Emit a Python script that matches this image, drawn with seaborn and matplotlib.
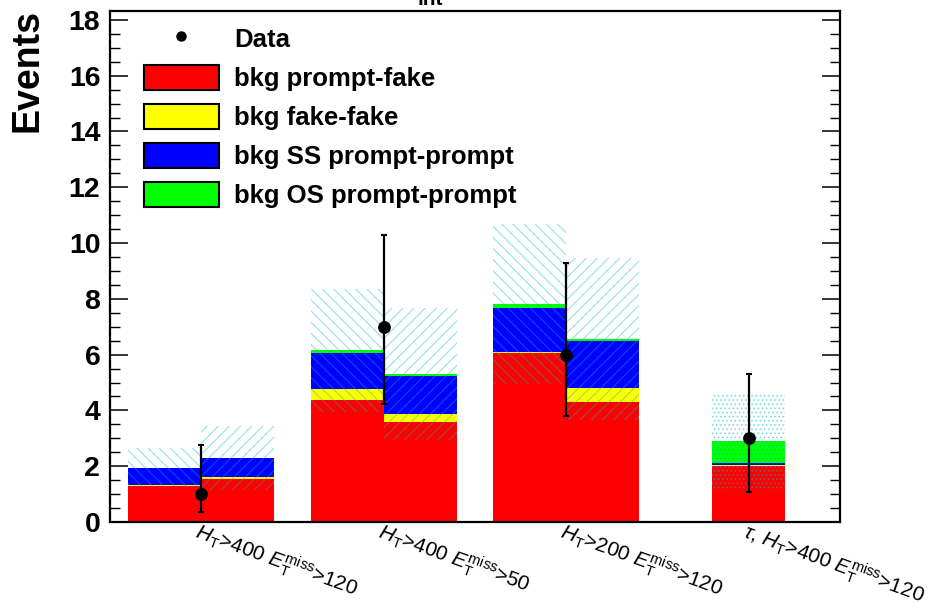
import numpy as np
import pandas as pd
import matplotlib
matplotlib.use("Agg")
import matplotlib.pyplot as plt
import seaborn as sns
from matplotlib.patches import Patch
from matplotlib.lines import Line2D
from matplotlib.ticker import MultipleLocator

# ---------------- data ----------------
regions = [r"$H_{\mathrm{T}}$>400 $E_{\mathrm{T}}^{\mathrm{miss}}$>120",
           r"$H_{\mathrm{T}}$>400 $E_{\mathrm{T}}^{\mathrm{miss}}$>50",
           r"$H_{\mathrm{T}}$>200 $E_{\mathrm{T}}^{\mathrm{miss}}$>120",
           r"$\tau$, $H_{\mathrm{T}}$>400 $E_{\mathrm{T}}^{\mathrm{miss}}$>120"]
# background bars: (region index, side) ; side -1 = left half, +1 = right half, 0 = centred
bar_region = [0, 0, 1, 1, 2, 2, 3]
bar_side = [-1, 1, -1, 1, -1, 1, 0]
bkg_prompt_fake = [1.30, 1.53, 4.37, 3.60, 6.07, 4.31, 2.01]
bkg_fake_fake = [0.02, 0.08, 0.41, 0.26, 0.03, 0.50, 0.02]
bkg_ss_pp = [0.63, 0.67, 1.29, 1.37, 1.58, 1.69, 0.07]
bkg_os_pp = [0.00, 0.02, 0.08, 0.07, 0.13, 0.06, 0.80]
bkg_err = [0.69, 1.14, 2.19, 2.36, 2.87, 2.89, 1.71]

data_obs = [1, 7, 6, 3]
data_lo = [0.35, 4.23, 3.80, 1.09]
data_hi = [2.76, 10.30, 9.27, 5.30]

layer_names = ["bkg prompt-fake", "bkg fake-fake", "bkg SS prompt-prompt", "bkg OS prompt-prompt"]
layer_vals = [bkg_prompt_fake, bkg_fake_fake, bkg_ss_pp, bkg_os_pp]
layer_cols = ["#ff0000", "#ffff00", "#0000ff", "#00ff00"]

# ---------------- style ----------------
sns.set_theme(style="white")
plt.rcParams["font.family"] = ["Liberation Sans", "DejaVu Sans"]
plt.rcParams["mathtext.fontset"] = "custom"
plt.rcParams["mathtext.rm"] = "Liberation Sans"
plt.rcParams["mathtext.it"] = "Liberation Sans:italic"
plt.rcParams["mathtext.bf"] = "Liberation Sans:bold"
plt.rcParams["hatch.linewidth"] = 0.8
for k in ["text.color", "axes.labelcolor", "xtick.color", "ytick.color", "axes.edgecolor"]:
    plt.rcParams[k] = "black"

fig = plt.figure(figsize=(9.34, 6.03), dpi=100)
ax = fig.add_axes([110/934, 81/603, 730/934, 511/603])

half = 0.4
xpos = []
for r, s in zip(bar_region, bar_side):
    if s < 0:
        xpos.append(r - half/2)
    elif s > 0:
        xpos.append(r + half/2)
    else:
        xpos.append(r)
xpos = np.array(xpos)

bottom = np.zeros(len(xpos))
for vals, col in zip(layer_vals, layer_cols):
    v = np.array(vals)
    ax.bar(xpos, v, width=half, bottom=bottom, color=col, linewidth=0, zorder=2)
    bottom += v
total = bottom
err = np.array(bkg_err)

hatches = ["\\\\\\" if s < 0 else ("///" if s > 0 else "....") for s in bar_side]
for x, t, e, h in zip(xpos, total, err, hatches):
    ax.bar([x], [2*e], width=half, bottom=[t - e], facecolor="none",
           edgecolor=(0.0, 0.72, 0.78, 0.42), linewidth=0, hatch=h, zorder=3)

# data points
dx = np.arange(len(data_obs))
dobs = np.array(data_obs, dtype=float)
yerr = [dobs - np.array(data_lo), np.array(data_hi) - dobs]
ax.errorbar(dx, dobs, yerr=yerr, fmt="none", ecolor="black", elinewidth=1.6,
            capsize=2, capthick=1.5, zorder=5)
df = pd.DataFrame({"x": dx, "y": dobs})
sns.scatterplot(data=df, x="x", y="y", ax=ax, color="black", s=85,
                edgecolor="black", linewidth=0, zorder=6, legend=False)

# axes
ax.set_xlim(-0.5, 3.5)
ax.set_ylim(0, 18.32)
ax.set_xlabel("")
ax.set_ylabel("")
ax.yaxis.set_major_locator(MultipleLocator(2))
ax.yaxis.set_minor_locator(MultipleLocator(0.5))
ax.tick_params(axis="y", which="major", direction="in", length=13, width=1.1,
               left=True, right=True, labelsize=20.5, pad=7, colors="black")
ax.tick_params(axis="y", which="minor", direction="in", length=7, width=1.0,
               left=True, right=True, colors="black")
for lab in ax.get_yticklabels():
    lab.set_fontweight("bold")
ax.set_xticks(dx)
ax.set_xticklabels(regions, fontsize=15)
ax.tick_params(axis="x", length=0, pad=-3, bottom=True, colors="black")
for lab in ax.get_xticklabels():
    lab.set_rotation(-20)
    lab.set_ha("left")
    lab.set_va("top")
    lab.set_rotation_mode("anchor")
for sp in ax.spines.values():
    sp.set_linewidth(1.6)
    sp.set_color("black")
    sp.set_visible(True)

# legend
handles = [Line2D([], [], marker="o", color="black", linestyle="none", markersize=6.5)]
for name, col in zip(layer_names, layer_cols):
    handles.append(Patch(facecolor=col, edgecolor="black", linewidth=1.5))
labels = ["Data"] + layer_names
leg = ax.legend(handles, labels, loc="upper left", bbox_to_anchor=(0.046, 0.971),
                frameon=False, fontsize=18.5, handlelength=2.95, handleheight=1.12,
                handletextpad=0.58, labelspacing=0.5, borderpad=0, borderaxespad=0)
for t in leg.get_texts():
    t.set_fontweight("bold")
    t.set_color("black")

fig.text(27/934, 1 - 71/603, "Events", rotation=90, ha="center", va="center",
         fontsize=27, fontweight="bold", color="black")
fig.text(430/934, 1 - 5/603, "int", ha="center", va="baseline", fontsize=15,
         fontweight="bold", color="black")

fig.savefig("out.png", dpi=100)
